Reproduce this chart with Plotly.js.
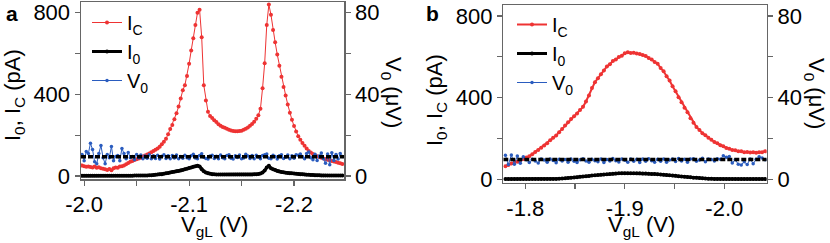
<!DOCTYPE html>
<html>
<head>
<meta charset="utf-8">
<script src="https://cdn.plot.ly/plotly-3.0.1.min.js"></script>
<style>html,body{margin:0;padding:0;background:#fff}#chart{width:830px;height:243px}</style>
</head>
<body>
<div id="chart"></div>
<script>
// ---------- Panel a data (V_gL sweep, x0 = -1.998 V, step -0.002 V) ----------
const a_x0 = -1.998, a_dx = -0.002;
const a_IC = [52,48,45,47,44,42,46,40,43,38,
  36,33,30,34,28,38,42,40,46,48,
  52,58,64,70,74,78,82,86,90,95,
  100,105,110,116,122,128,135,143,155,168,
  183,205,230,250,278,308,340,380,420,445,
  490,550,615,675,740,800,815,680,445,370,
  315,294,284,273,264,254,246,240,236,231,
  227,223,220,219,219,220,222,226,232,238,
  246,255,266,280,298,330,430,552,740,840,
  790,715,655,595,540,486,436,395,350,310,
  275,245,218,195,178,162,148,135,122,115,
  108,102,97,93,89,86,83,80,77,74,
  71,68,65,62,59];
const a_I0 = [1,1,1,1,1,1,1,1,1,1,
  1,1,1,1,1,1,1,1,1,1,
  1,1,1,1,1,2,2,2,2,3,
  3,3,4,4,5,6,7,8,9,11,
  13,15,17,19,21,23,25,27,30,33,
  36,39,42,45,48,50,47,33,23,17,
  14,11,9,8,7,7,7,7,7,7,
  7,7,7,7,7,7,7,7,7,7,
  7,7,8,9,10,12,17,27,42,50,
  38,33,29,25,22,20,18,16,15,14,
  13,12,11,10,9,8,7,6,6,5,
  5,4,4,4,3,3,3,3,2,2,
  2,2,2,2,2];
const a_V0 = [10.5,7.5,12,11,16,13,7,6,11,15,
  9,6,10.5,9,14.5,7.5,9.5,10,7.5,13.5,
  11,8.5,11.5,9,9.5,8,10.5,9,10.3,8.4,
  9.8,8.7,10.4,8.5,9.9,8.6,10.2,8.3,9.7,10.4,
  8.6,9.9,8.4,10.1,8.8,10.3,8.5,9.6,8.7,10.2,
  9.0,8.4,9.9,10.6,8.8,8.5,10.1,10.9,9.2,8.6,
  8.3,9.8,10.2,8.6,9.7,8.4,10.3,8.9,8.5,10.0,
  10.4,8.7,8.3,9.9,9.1,10.3,8.5,8.8,10.6,9.8,
  8.6,10.0,8.4,10.2,9.3,8.5,10.1,10.4,10.8,8.7,
  8.5,10.2,9.5,8.3,9.9,10.4,8.6,9.2,10.3,8.5,
  9.9,8.7,10.4,10.2,10.8,9.6,8.5,11.0,11.8,9.0,
  8.0,10.6,7.6,9.8,11.3,8.4,6.2,10.8,5.5,11.4,
  7.6,10.5,8.3,11.0,9.6];
const a_refX = [-1.997, -2.2476];
const a_refV = [9.45, 9.45];

// ---------- Panel b data (x0 = -1.780 V, step -0.003 V) ----------
const b_x0 = -1.780, b_dx = -0.003;
const b_IC = [64,70,77,82,86,93,99,107,113,123,
  134,144,155,166,176,191,203,214,231,246,
  264,280,296,309,322,339,355,381,411,447,
  476,495,515,533,553,564,579,587,599,605,
  617,622,619,620,616,614,609,604,594,587,
  575,566,545,529,505,484,456,431,402,378,
  350,328,299,277,256,242,226,216,203,194,
  183,177,167,162,153,150,143,142,137,137,
  133,134,131,132,130,133,133,137];
const b_I0 = [1,1,1,1,1,1,1,1,1,1,
  1,1,1,1,1,1,2,2,3,4,
  5,6,7.5,9,10.5,12,13.5,15,16.5,18,
  19.5,21,22.5,24,25,26,27,28,29,29.5,
  30,30,30,30,29.5,29,28.5,28,27,26.5,
  26,25,24,22.5,21,20,18.5,17,15.5,14,
  12.5,11,9.5,8,7,6,5,4,3,2.5,
  2,1.5,1.5,1,1,1,1,1,1,1,
  1,1,1,1,1,1,1,1];
const b_V0 = [11.8,7.2,11.9,7.4,11.4,7.8,11.0,9.6,8.2,9.8,
  9.0,8.0,9.9,9.4,8.3,10.0,9.2,8.1,9.8,9.0,
  9.7,8.3,9.9,8.9,8.2,9.6,10.1,9.0,8.4,9.8,
  9.1,8.6,10.0,8.2,9.7,9.0,10.2,9.1,8.5,9.9,
  9.3,8.3,10.0,8.9,9.8,8.2,9.9,8.8,10.1,9.1,
  8.4,9.8,8.9,10.0,8.4,9.5,9.9,8.7,10.2,9.0,
  9.8,8.3,9.9,10.1,8.8,9.4,10.3,8.6,10.0,9.7,
  9.0,10.1,9.8,11.5,10.8,11.2,8.0,9.6,7.4,7.0,
  8.6,7.2,10.0,7.6,9.8,11.0,10.4,9.6];
const b_refX = [-1.7779, -2.0426];
const b_refV = [9.7, 9.7];

// ---------- axis ticks ----------
const xTicksA = [-2.0, -2.1, -2.2], xTickTextA = ['-2.0', '-2.1', '-2.2'], xMinorA = [-2.05, -2.15];
const xTicksB = [-1.8, -1.9, -2.0], xTickTextB = ['-1.8', '-1.9', '-2.0'], xMinorB = [-1.85, -1.95];
const yTicksL = [0, 400, 800], yMinorL = [200, 600];
const yTicksR = [0, 40, 80], yMinorR = [20, 60];

// ---------- styles ----------
const RED = '#ee3333', BLUE = '#2a5cbf', BLACK = '#000000';
const FONT = 'Liberation Sans, Arial, Helvetica, sans-serif';
const W = 830, H = 243;
const px = v => v / W, py = v => 1 - v / H;

const traces = [
  // panel a
  {y: a_I0, x0: a_x0, dx: a_dx, xaxis: 'x', yaxis: 'y', mode: 'lines+markers', name: 'I<sub>0</sub>',
   legend: 'legend', legendrank: 2, line: {color: BLACK, width: 3}, marker: {color: BLACK, size: 4}},
  {y: a_IC, x0: a_x0, dx: a_dx, xaxis: 'x', yaxis: 'y', mode: 'lines+markers', name: 'I<sub>C</sub>',
   legend: 'legend', legendrank: 1, line: {color: RED, width: 1}, marker: {color: RED, size: 4}},
  {y: a_V0, x0: a_x0, dx: a_dx, xaxis: 'x', yaxis: 'y2', mode: 'lines+markers', name: 'V<sub>0</sub>',
   legend: 'legend', legendrank: 3, line: {color: BLUE, width: 1}, marker: {color: BLUE, size: 3.5}},
  {x: a_refX, y: a_refV, xaxis: 'x', yaxis: 'y2', mode: 'lines', showlegend: false,
   line: {color: BLACK, width: 3.5, dash: '5px,2px'}, hoverinfo: 'skip'},
  // panel b
  {y: b_I0, x0: b_x0, dx: b_dx, xaxis: 'x2', yaxis: 'y3', mode: 'lines+markers', name: 'I<sub>0</sub>',
   legend: 'legend2', legendrank: 2, line: {color: BLACK, width: 3}, marker: {color: BLACK, size: 4}},
  {y: b_IC, x0: b_x0, dx: b_dx, xaxis: 'x2', yaxis: 'y3', mode: 'lines+markers', name: 'I<sub>C</sub>',
   legend: 'legend2', legendrank: 1, line: {color: RED, width: 2}, marker: {color: RED, size: 4}},
  {y: b_V0, x0: b_x0, dx: b_dx, xaxis: 'x2', yaxis: 'y4', mode: 'lines+markers', name: 'V<sub>0</sub>',
   legend: 'legend2', legendrank: 3, line: {color: BLUE, width: 1}, marker: {color: BLUE, size: 3.5}},
  {x: b_refX, y: b_refV, xaxis: 'x2', yaxis: 'y4', mode: 'lines', showlegend: false,
   line: {color: BLACK, width: 3.5, dash: '5px,2px'}, hoverinfo: 'skip'}
];

const tickFont = {family: FONT, size: 22, color: '#000'};
const LINEC = '#666';
function xAxis(domain, range, tv, tt, minor, anchor) {
  return {domain, range, anchor, tickmode: 'array', tickvals: tv, ticktext: tt,
    ticks: 'outside', ticklen: 5, tickcolor: LINEC, tickwidth: 1.2,
    minor: {tickmode: 'array', tickvals: minor, ticks: 'outside', ticklen: 5, tickcolor: LINEC, tickwidth: 1.2},
    showline: true, linecolor: LINEC, linewidth: 1.5, mirror: true, showgrid: false, zeroline: false,
    tickfont: tickFont, automargin: false, fixedrange: true};
}
function yAxis(domain, range, tv, minor, anchor, side, overlaying) {
  const o = {domain, range, anchor, side, tickmode: 'array', tickvals: tv, ticktext: tv.map(String),
    ticks: 'outside', ticklen: 5, tickcolor: LINEC, tickwidth: 1.2,
    minor: {tickmode: 'array', tickvals: minor, ticks: 'outside', ticklen: 5, tickcolor: LINEC, tickwidth: 1.2},
    showline: true, linecolor: LINEC, linewidth: 1.5, showgrid: false, zeroline: false,
    tickfont: tickFont, automargin: false, fixedrange: true};
  if (overlaying) o.overlaying = overlaying;
  return o;
}

const domXA = [px(81), px(344)], domXB = [px(503.3), px(766.7)];
const domYA = [py(179), py(2)], domYB = [py(182.6), py(5)];

const titleFont = {family: FONT, size: 22, color: '#000'};
const ann = (text, x, y, angle, extra) => Object.assign({text, x: px(x), y: py(y), xref: 'paper', yref: 'paper',
  showarrow: false, textangle: angle, font: titleFont, xanchor: 'center', yanchor: 'middle'}, extra || {});

const legFont = {family: FONT, size: 20, color: '#000'};
const layout = {
  width: W, height: H, margin: {l: 0, r: 0, t: 0, b: 0},
  paper_bgcolor: '#fff', plot_bgcolor: 'rgba(0,0,0,0)',
  font: {family: FONT, size: 22, color: '#000'},
  xaxis: xAxis(domXA, [-1.997, -2.2476], xTicksA, xTickTextA, xMinorA, 'y'),
  yaxis: yAxis(domYA, [-14.7, 852.5], yTicksL, yMinorL, 'x', 'left'),
  yaxis2: yAxis(domYA, [-1.47, 85.25], yTicksR, yMinorR, 'x', 'right', 'y'),
  xaxis2: xAxis(domXB, [-1.7779, -2.0426], xTicksB, xTickTextB, xMinorB, 'y3'),
  yaxis3: yAxis(domYB, [-16.2, 853.9], yTicksL, yMinorL, 'x2', 'left'),
  yaxis4: yAxis(domYB, [-1.62, 85.39], yTicksR, yMinorR, 'x2', 'right', 'y3'),
  legend: {x: px(87), y: py(3), xanchor: 'left', yanchor: 'top', bgcolor: 'rgba(0,0,0,0)',
    font: legFont, tracegroupgap: 0, traceorder: 'normal'},
  legend2: {x: px(512), y: py(5), xanchor: 'left', yanchor: 'top', bgcolor: 'rgba(0,0,0,0)',
    font: legFont, tracegroupgap: 0, traceorder: 'normal'},
  showlegend: true,
  annotations: [
    ann('<b>a</b>', 12, 14, 0, {font: {family: FONT, size: 21, color: '#000'}}),
    ann('<b>b</b>', 432, 14, 0, {font: {family: FONT, size: 21, color: '#000'}}),
    ann('I<sub>0</sub>, I<sub>C</sub> (pA)', 14, 95, -90),
    ann('V<sub>0</sub> (μV)', 392, 92, 90),
    ann('V<sub>gL</sub> (V)', 214, 210, 0, {yanchor: 'top'}),
    ann('I<sub>0</sub>, I<sub>C</sub> (pA)', 436, 100, -90),
    ann('V<sub>0</sub> (μV)', 815, 93, 90),
    ann('V<sub>gL</sub> (V)', 641, 210, 0, {yanchor: 'top'})
  ]
};

Plotly.newPlot('chart', traces, layout, {displayModeBar: false, staticPlot: true});
</script>
</body>
</html>
